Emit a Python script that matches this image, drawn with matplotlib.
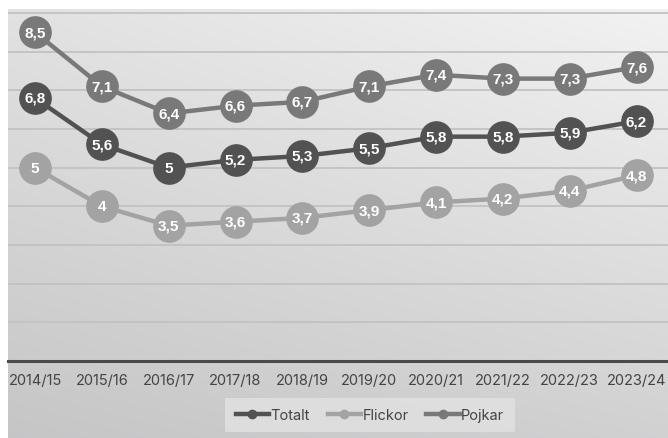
import numpy as np
import matplotlib.pyplot as plt

years = ["2014/15", "2015/16", "2016/17", "2017/18", "2018/19",
         "2019/20", "2020/21", "2021/22", "2022/23", "2023/24"]
totalt = [6.8, 5.6, 5.0, 5.2, 5.3, 5.5, 5.8, 5.8, 5.9, 6.2]
flickor = [5.0, 4.0, 3.5, 3.6, 3.7, 3.9, 4.1, 4.2, 4.4, 4.8]
pojkar = [8.5, 7.1, 6.4, 6.6, 6.7, 7.1, 7.4, 7.3, 7.3, 7.6]

series = [("Totalt", totalt, "#525252"),
          ("Flickor", flickor, "#a3a3a3"),
          ("Pojkar", pojkar, "#797979")]

plt.rcParams['font.family'] = ['Inter', 'DejaVu Sans']

W, H = 668, 439
fig = plt.figure(figsize=(W / 100, H / 100), dpi=100)
fig.patch.set_facecolor("white")

# gradient background (lighter top-right, darker bottom-left)
bg = fig.add_axes([8 / W, 0, 1 - 8 / W, 1 - 10 / H])
gx, gy = np.meshgrid(np.linspace(0, 1, 200), np.linspace(0, 1, 200))
shade = 0.885 + 0.065 * gx - 0.11 * gy - 0.02 * gx * gy
bg.imshow(np.dstack([shade, shade, shade + 0.005]).clip(0, 1),
          aspect='auto', extent=[0, 1, 1, 0], interpolation='bilinear')
bg.axis('off')

ax = fig.add_axes([8 / W, 77 / H, 1 - 8 / W, (362 - 10) / H])
ax.patch.set_alpha(0)
x = np.arange(len(years))

for y in range(1, 10):
    ax.axhline(y, color="#c2c2c2", lw=1.3, zorder=1)

for name, vals, col in series:
    ax.plot(x, vals, color=col, lw=3.2, marker='o', ms=22.5, mec=col,
            label=name, zorder=3)
    for xi, v in zip(x, vals):
        txt = ("%g" % v).replace(".", ",")
        ax.text(xi, v, txt, ha='center', va='center', color='white',
                fontsize=11, fontweight='bold', family='Liberation Sans',
                zorder=4)

ax.set_xlim(-0.404, 9.47)
ax.set_ylim(0, 9.1)
ax.set_yticks([])
ax.set_xticks(x)
ax.set_xticklabels(years, fontsize=10.5, color="#444444")
ax.tick_params(axis='x', length=0, pad=9)
for s in ['top', 'right', 'left']:
    ax.spines[s].set_visible(False)
ax.spines['bottom'].set_color("#4a4a4a")
ax.spines['bottom'].set_linewidth(2.2)

handles = [plt.Line2D([], [], color=c, lw=3.2, marker='o', ms=6) for _, _, c in series]
leg = fig.legend(handles, [s[0] for s in series], loc='center',
                 bbox_to_anchor=(370 / W, 1 - 416 / H), ncol=3, frameon=True,
                 fontsize=10.5, handlelength=2.3, handletextpad=0.1,
                 columnspacing=1.2, fancybox=False, borderpad=0.7)
leg.get_frame().set_facecolor("#e2e2e2")
leg.get_frame().set_edgecolor("none")
leg.get_frame().set_alpha(0.8)
for t in leg.get_texts():
    t.set_color("#444444")

fig.savefig("out.png", dpi=100)
